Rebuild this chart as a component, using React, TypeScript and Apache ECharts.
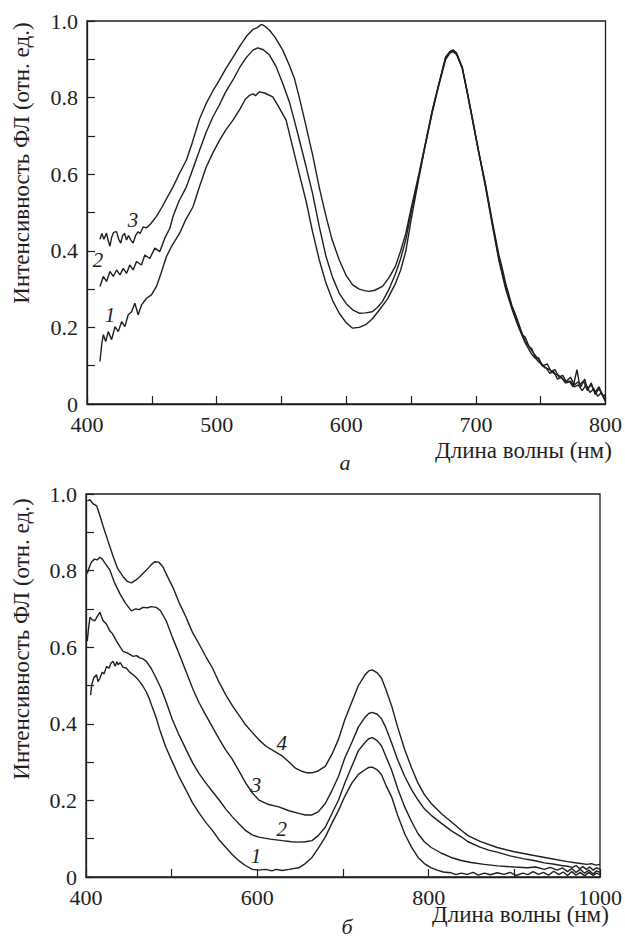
import React, { useEffect, useRef } from "react";
import * as echarts from "echarts";

// ---------- Panel a ----------
const nmA3 = [410, 411.5, 413, 415, 416.5, 417.7, 419, 420.5, 422.8, 424.5, 426, 427.5, 429, 430.5, 432, 433.5, 435.6, 437.5, 439.5, 441, 443.3, 446, 449, 453.6, 458, 462, 466.4, 471, 476.7, 481, 486.9, 492, 497.2, 502, 507, 512.6, 518, 523, 528, 531, 534.4, 537, 540.8, 545, 551, 556, 560, 563.8, 568, 574.1, 579.2, 584.4, 589, 594.6, 600, 604.9, 610, 614, 617.7, 622, 628, 633, 638, 642, 646, 650, 656, 661, 666.4, 671, 676.7, 680, 682.3, 685, 689.5, 693, 697, 702, 707.4, 712.5, 717.7, 723, 728, 733, 738, 743, 748.5, 753, 757, 760, 763.8, 767, 770, 773, 776, 779, 781, 784, 786, 789, 792, 795, 798, 800];
const intA3 = [0.43, 0.445, 0.43, 0.446, 0.425, 0.412, 0.435, 0.448, 0.45, 0.43, 0.42, 0.44, 0.445, 0.428, 0.44, 0.43, 0.42, 0.44, 0.45, 0.445, 0.462, 0.46, 0.47, 0.49, 0.515, 0.54, 0.567, 0.6, 0.637, 0.68, 0.745, 0.785, 0.818, 0.845, 0.875, 0.905, 0.935, 0.96, 0.978, 0.982, 0.991, 0.987, 0.976, 0.958, 0.924, 0.885, 0.85, 0.8, 0.74, 0.65, 0.565, 0.49, 0.43, 0.376, 0.335, 0.311, 0.3, 0.296, 0.294, 0.297, 0.307, 0.33, 0.36, 0.4, 0.446, 0.51, 0.6, 0.68, 0.767, 0.83, 0.906, 0.92, 0.925, 0.917, 0.88, 0.82, 0.75, 0.66, 0.567, 0.47, 0.376, 0.3, 0.246, 0.2, 0.16, 0.13, 0.11, 0.095, 0.09, 0.08, 0.075, 0.065, 0.06, 0.07, 0.05, 0.058, 0.045, 0.065, 0.04, 0.05, 0.03, 0.045, 0.02, 0.025];

const nmA2 = [410, 412.6, 415.1, 417.7, 420.3, 422.8, 425.4, 428, 430.5, 433, 435.6, 438.2, 442, 444.6, 448.5, 452.3, 456.2, 460, 463.9, 466.4, 471, 476.7, 481.8, 486.9, 492, 497.2, 502, 507, 512.6, 518, 523, 528, 531.8, 536, 540.8, 546, 551, 556, 560, 563.8, 569, 574, 579.2, 584.4, 589.5, 594.6, 600, 604.9, 610, 615, 620, 624, 628, 633, 638, 642, 646, 650, 656, 661, 666.4, 671, 676.7, 680, 682.3, 685, 689.5, 693, 697, 702, 707.4, 712.5, 717.7, 723, 728, 733, 738, 743, 748.5, 752, 755, 758, 761, 764, 767, 770, 773, 776, 779, 782, 785, 788, 791, 794, 797, 800];
const intA2 = [0.307, 0.333, 0.32, 0.346, 0.333, 0.35, 0.337, 0.354, 0.341, 0.363, 0.35, 0.372, 0.363, 0.389, 0.38, 0.407, 0.398, 0.433, 0.459, 0.49, 0.53, 0.567, 0.615, 0.663, 0.71, 0.75, 0.78, 0.815, 0.846, 0.88, 0.905, 0.924, 0.93, 0.925, 0.911, 0.88, 0.837, 0.79, 0.74, 0.69, 0.62, 0.55, 0.463, 0.385, 0.33, 0.289, 0.262, 0.246, 0.237, 0.238, 0.241, 0.252, 0.268, 0.3, 0.34, 0.38, 0.43, 0.5, 0.595, 0.678, 0.765, 0.83, 0.905, 0.92, 0.923, 0.916, 0.878, 0.82, 0.752, 0.662, 0.57, 0.475, 0.38, 0.305, 0.25, 0.205, 0.165, 0.14, 0.115, 0.1, 0.105, 0.085, 0.09, 0.07, 0.075, 0.055, 0.06, 0.045, 0.05, 0.035, 0.05, 0.03, 0.04, 0.02, 0.03, 0.01];

const nmA1 = [410, 411.3, 412.6, 414.4, 416.4, 419, 421.6, 424.1, 426.7, 429.2, 431.8, 434.4, 436.9, 439.5, 442.1, 445.9, 449.7, 453.6, 457, 461.3, 465, 471.5, 476, 481.8, 487, 492, 497, 502.3, 507, 512.6, 518, 522, 525.4, 528, 530, 533, 537, 543.3, 548, 553.6, 558, 563.8, 569, 574, 579.2, 584.4, 589.5, 594.6, 600, 604.9, 610, 615, 620, 625.7, 632, 638, 642, 646, 650, 656, 661, 666.4, 671, 676.7, 680, 682.3, 685, 689.5, 693, 697, 702, 707.4, 712.5, 717.7, 720, 723, 728, 731, 733, 736, 738, 741, 743, 746, 748.5, 751, 754, 757, 760, 763, 766, 769, 772, 775, 778, 780, 783, 786, 789, 792, 795, 798, 800];
const intA1 = [0.111, 0.155, 0.181, 0.163, 0.189, 0.168, 0.202, 0.189, 0.215, 0.202, 0.233, 0.241, 0.263, 0.233, 0.259, 0.276, 0.285, 0.307, 0.34, 0.385, 0.41, 0.446, 0.48, 0.515, 0.57, 0.619, 0.655, 0.689, 0.715, 0.741, 0.77, 0.795, 0.806, 0.81, 0.805, 0.815, 0.812, 0.802, 0.775, 0.741, 0.68, 0.6, 0.53, 0.45, 0.376, 0.315, 0.27, 0.237, 0.212, 0.198, 0.2, 0.207, 0.222, 0.246, 0.275, 0.315, 0.35, 0.4, 0.48, 0.59, 0.675, 0.762, 0.826, 0.9, 0.916, 0.92, 0.913, 0.876, 0.818, 0.748, 0.66, 0.575, 0.48, 0.39, 0.36, 0.315, 0.255, 0.23, 0.21, 0.18, 0.175, 0.15, 0.145, 0.12, 0.12, 0.1, 0.095, 0.08, 0.085, 0.065, 0.07, 0.055, 0.06, 0.045, 0.09, 0.05, 0.06, 0.035, 0.055, 0.025, 0.04, 0.02, 0.005];

// ---------- Panel б ----------
const nmB4 = [401.5, 404.6, 408, 412.4, 416, 420, 426, 431.7, 437, 443.3, 448, 453, 458, 462.7, 470, 476, 480, 485, 489.7, 495, 501.3, 509, 516.8, 524, 532.3, 540, 547.8, 555, 563.3, 571, 578.7, 586, 594.2, 602, 609.7, 620, 629, 637, 644.5, 652, 658, 663.8, 670, 675, 679.3, 687, 694.8, 702, 710.3, 718, 725.7, 730, 734.2, 740, 745, 750, 756.6, 764, 772, 780, 787.6, 795, 803, 815, 826, 838, 846, 860, 880, 900, 923, 945, 962, 975, 985, 990, 995, 1000];
const intB4 = [0.982, 0.985, 0.975, 0.969, 0.945, 0.916, 0.875, 0.837, 0.805, 0.784, 0.772, 0.768, 0.775, 0.784, 0.8, 0.815, 0.823, 0.822, 0.81, 0.785, 0.757, 0.715, 0.678, 0.64, 0.607, 0.575, 0.545, 0.51, 0.475, 0.447, 0.422, 0.398, 0.377, 0.358, 0.342, 0.328, 0.316, 0.3, 0.284, 0.276, 0.272, 0.272, 0.276, 0.283, 0.289, 0.32, 0.36, 0.41, 0.457, 0.5, 0.528, 0.538, 0.541, 0.533, 0.519, 0.49, 0.448, 0.39, 0.333, 0.285, 0.245, 0.215, 0.192, 0.165, 0.145, 0.122, 0.108, 0.093, 0.077, 0.066, 0.056, 0.047, 0.04, 0.036, 0.033, 0.035, 0.031, 0.033];

const nmB3 = [401.5, 404, 406.6, 410, 413, 416.2, 419, 422, 427.9, 433, 439.5, 446, 453, 458, 462, 466.5, 472, 476, 482, 487, 493.6, 501, 509, 517, 524.5, 532, 540, 548, 555.5, 563, 570.9, 579, 586.5, 594, 601.9, 612, 625.1, 637, 648.3, 656, 663.8, 671, 679.3, 687, 694.8, 702, 710.3, 718, 725.7, 730, 734.2, 740, 745, 750, 756.6, 764, 772, 780, 787.6, 795, 803, 815, 826.2, 838, 846, 860, 870, 880, 895, 910, 923, 935, 945, 955, 962, 968, 972, 976, 980, 984, 988, 992, 996, 1000];
const intB3 = [0.792, 0.81, 0.823, 0.83, 0.828, 0.835, 0.83, 0.82, 0.801, 0.77, 0.74, 0.715, 0.695, 0.7, 0.698, 0.704, 0.703, 0.706, 0.704, 0.695, 0.669, 0.625, 0.581, 0.535, 0.492, 0.455, 0.422, 0.39, 0.36, 0.332, 0.307, 0.275, 0.245, 0.22, 0.201, 0.19, 0.183, 0.173, 0.166, 0.162, 0.162, 0.17, 0.192, 0.225, 0.263, 0.31, 0.351, 0.392, 0.417, 0.427, 0.43, 0.425, 0.413, 0.39, 0.351, 0.305, 0.263, 0.228, 0.201, 0.178, 0.161, 0.14, 0.121, 0.105, 0.092, 0.078, 0.07, 0.065, 0.055, 0.048, 0.043, 0.037, 0.034, 0.03, 0.028, 0.025, 0.03, 0.022, 0.027, 0.02, 0.026, 0.018, 0.024, 0.02];

const nmB2 = [401.5, 403, 404.6, 407, 410.4, 413, 416.2, 418, 420, 424, 427.9, 431, 435.6, 440, 443.3, 448, 455, 459, 462.7, 466, 470.4, 476, 482, 488, 493.6, 501, 509, 517, 524.5, 532, 540, 548, 555.5, 563, 570.9, 579, 586.5, 594, 601.9, 615, 629, 640, 648.3, 656, 663.8, 671, 679.3, 687, 694.8, 702, 710.3, 718, 725.7, 730, 734.2, 740, 745, 750, 756.6, 764, 772, 780, 787.6, 795, 803, 815, 826.2, 838, 849.5, 865, 880.4, 900, 915, 925, 935, 942, 950, 956, 962, 967, 972, 977, 982, 987, 992, 996, 1000];
const intB2 = [0.616, 0.65, 0.678, 0.672, 0.669, 0.68, 0.691, 0.68, 0.669, 0.66, 0.642, 0.635, 0.616, 0.6, 0.589, 0.585, 0.576, 0.578, 0.572, 0.57, 0.563, 0.545, 0.519, 0.49, 0.457, 0.41, 0.369, 0.332, 0.298, 0.27, 0.245, 0.222, 0.201, 0.178, 0.157, 0.138, 0.121, 0.11, 0.104, 0.099, 0.095, 0.092, 0.091, 0.092, 0.095, 0.108, 0.13, 0.165, 0.201, 0.245, 0.289, 0.33, 0.351, 0.361, 0.364, 0.356, 0.342, 0.315, 0.28, 0.23, 0.183, 0.145, 0.113, 0.092, 0.077, 0.062, 0.051, 0.043, 0.038, 0.033, 0.029, 0.026, 0.024, 0.026, 0.02, 0.025, 0.018, 0.024, 0.014, 0.022, 0.012, 0.02, 0.01, 0.018, 0.008, 0.016, 0.012];

const nmB1 = [405.4, 406.6, 409, 412.4, 414, 416.2, 419, 421, 424, 427, 429, 431.7, 434, 436, 437.5, 440, 443, 447.2, 451, 455, 459, 462.7, 466, 470.4, 474, 478.1, 482, 485.9, 493, 501.3, 509, 516.8, 524, 532.3, 540, 547.8, 555, 563.3, 571, 578.7, 586, 594.2, 601, 609.7, 617, 622, 629, 637, 642, 648.3, 656, 663.8, 671, 679.3, 687, 694.8, 702, 710.3, 718, 725.7, 730, 734.2, 740, 745, 750, 756.6, 764, 772, 780, 787.6, 795, 803, 810, 817, 826.2, 832, 838, 845, 852, 858, 865, 872, 880, 888, 895, 902, 910, 916, 922, 928, 934, 940, 946, 952, 957, 962, 967, 972, 977, 982, 987, 992, 996, 1000];
const intB1 = [0.475, 0.501, 0.52, 0.528, 0.51, 0.519, 0.535, 0.53, 0.55, 0.545, 0.558, 0.563, 0.55, 0.562, 0.554, 0.56, 0.548, 0.545, 0.535, 0.528, 0.52, 0.51, 0.5, 0.483, 0.465, 0.439, 0.415, 0.386, 0.34, 0.298, 0.26, 0.227, 0.195, 0.166, 0.142, 0.121, 0.098, 0.077, 0.058, 0.042, 0.03, 0.02, 0.018, 0.02, 0.016, 0.02, 0.017, 0.02, 0.022, 0.024, 0.035, 0.051, 0.075, 0.104, 0.14, 0.174, 0.21, 0.245, 0.268, 0.28, 0.286, 0.287, 0.28, 0.267, 0.24, 0.21, 0.16, 0.113, 0.078, 0.051, 0.035, 0.024, 0.018, 0.013, 0.011, 0.006, 0.01, 0.007, 0.012, 0.005, 0.01, 0.006, 0.011, 0.007, 0.012, 0.004, 0.01, 0.006, 0.014, 0.007, 0.012, 0.005, 0.015, 0.006, 0.013, 0.004, 0.014, 0.005, 0.012, 0.003, 0.012, 0.004, 0.01, 0.006];

// curve number labels: [wavelength, intensity, text]
const labelsA: [number, number, string][] = [[435.4, 0.48, "3"], [408.5, 0.376, "2"], [417.7, 0.233, "1"]];
const labelsB: [number, number, string][] = [[628.6, 0.351, "4"], [598.4, 0.24, "3"], [628.6, 0.126, "2"], [598.4, 0.054, "1"]];

const xTicksA = { min: 400, max: 800, interval: 100 };
const xTicksB = { min: 400, max: 1000, interval: 200 };
const yTicks = { min: 0, max: 1, interval: 0.2 };

const yName = "Интенсивность ФЛ (отн. ед.)";
const xName = "Длина волны (нм)";

const FONT = "Liberation Serif";
const INK = "#1e1e1e";

const pairs = (xs: number[], ys: number[]) => xs.map((x, i) => [x, ys[i]]);

function xAxisCfg(gridIndex: number, t: { min: number; max: number; interval: number }) {
  return {
    type: "value",
    gridIndex,
    min: t.min,
    max: t.max,
    interval: t.interval,
    axisLine: { show: true, lineStyle: { color: INK, width: 1.3 } },
    axisTick: { show: true, inside: true, length: 8, lineStyle: { color: INK, width: 1.2 } },
    minorTick: { show: true, splitNumber: 2, length: 8, lineStyle: { color: INK, width: 1.2 } },
    splitLine: { show: false },
    axisLabel: {
      fontFamily: FONT,
      fontSize: 22,
      color: INK,
      margin: 9,
      formatter: (v: number) => String(v),
    },
  };
}

function yAxisCfg(gridIndex: number) {
  return {
    type: "value",
    gridIndex,
    min: yTicks.min,
    max: yTicks.max,
    interval: yTicks.interval,
    axisLine: { show: true, lineStyle: { color: INK, width: 1.3 } },
    axisTick: { show: true, inside: true, length: 8, lineStyle: { color: INK, width: 1.2 } },
    minorTick: { show: true, splitNumber: 2, length: 8, lineStyle: { color: INK, width: 1.2 } },
    splitLine: { show: false },
    axisLabel: {
      fontFamily: FONT,
      fontSize: 22,
      color: INK,
      margin: 9,
      formatter: (v: number) => (v === 0 ? "0" : v.toFixed(1)),
    },
  };
}

function lineSeries(xs: number[], ys: number[], idx: number) {
  return {
    type: "line",
    xAxisIndex: idx,
    yAxisIndex: idx,
    data: pairs(xs, ys),
    showSymbol: false,
    symbol: "none",
    silent: true,
    lineStyle: { color: INK, width: 1.4 },
  };
}

function labelSeries(items: [number, number, string][], idx: number) {
  return {
    type: "scatter",
    xAxisIndex: idx,
    yAxisIndex: idx,
    symbolSize: 0,
    silent: true,
    itemStyle: { opacity: 1, color: INK },
    data: items.map((d) => [d[0], d[1], d[2]]),
    label: {
      show: true,
      position: "inside",
      formatter: (p: any) => p.value[2],
      fontFamily: FONT,
      fontStyle: "italic",
      fontSize: 21,
      color: INK,
      opacity: 1,
      textBorderWidth: 0,
    },
  };
}

export default function App() {
  const ref = useRef<HTMLDivElement>(null);
  useEffect(() => {
    if (!ref.current) return;
    const chart = echarts.init(ref.current, null, { renderer: "svg" });
    chart.setOption({
      animation: false,
      backgroundColor: "#ffffff",
      textStyle: { fontFamily: FONT },
      grid: [
        { left: 87, top: 21, width: 520, height: 383, show: true, borderColor: INK, borderWidth: 1.3, backgroundColor: "transparent" },
        { left: 86, top: 494, width: 517, height: 383, show: true, borderColor: INK, borderWidth: 1.3, backgroundColor: "transparent" },
      ],
      xAxis: [xAxisCfg(0, xTicksA), xAxisCfg(1, xTicksB)],
      yAxis: [yAxisCfg(0), yAxisCfg(1)],
      series: [
        lineSeries(nmA1, intA1, 0),
        lineSeries(nmA2, intA2, 0),
        lineSeries(nmA3, intA3, 0),
        labelSeries(labelsA, 0),
        lineSeries(nmB1, intB1, 1),
        lineSeries(nmB2, intB2, 1),
        lineSeries(nmB3, intB3, 1),
        lineSeries(nmB4, intB4, 1),
        labelSeries(labelsB, 1),
      ],
      graphic: [
        {
          type: "text",
          x: 21,
          y: 163,
          rotation: Math.PI / 2,
          style: { text: yName, fontFamily: FONT, fontSize: 23, fill: INK, align: "center", verticalAlign: "middle" },
        },
        {
          type: "text",
          x: 21,
          y: 639,
          rotation: Math.PI / 2,
          style: { text: yName, fontFamily: FONT, fontSize: 23, fill: INK, align: "center", verticalAlign: "middle" },
        },
        {
          type: "text",
          x: 435,
          y: 450,
          style: { text: xName, fontFamily: FONT, fontSize: 23, fill: INK, align: "left", verticalAlign: "middle" },
        },
        {
          type: "text",
          x: 432,
          y: 914,
          style: { text: xName, fontFamily: FONT, fontSize: 23, fill: INK, align: "left", verticalAlign: "middle" },
        },
        {
          type: "text",
          x: 345,
          y: 462,
          style: { text: "а", fontFamily: FONT, fontStyle: "italic", fontSize: 22, fill: INK, align: "center", verticalAlign: "middle" },
        },
        {
          type: "text",
          x: 347,
          y: 926,
          style: { text: "б", fontFamily: FONT, fontStyle: "italic", fontSize: 22, fill: INK, align: "center", verticalAlign: "middle" },
        },
      ],
    });
    return () => chart.dispose();
  }, []);
  return (
    <div
      ref={ref}
      style={{ position: "fixed", left: 0, top: 0, width: 625, height: 942, background: "#fff" }}
    />
  );
}
